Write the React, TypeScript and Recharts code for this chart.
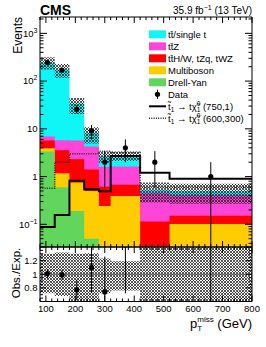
import React from 'react';
import {
  ComposedChart,
  Area,
  Line,
  Scatter,
  ErrorBar,
  XAxis,
  YAxis,
  ReferenceLine,
} from 'recharts';

const FONT = '"Liberation Sans", Arial, Helvetica, sans-serif';

// pT miss binning (GeV)
const binEdges = [80, 130, 180, 230, 280, 320, 420, 520, 800];

// expected backgrounds per bin (events)
const ttbarSingleT = [236, 166, 28.3, 3.95, 1.09, 1.18, 0.066, 0.08];
const ttZ = [1.2, 2.2, 3.4, 2.84, 1.0, 0.95, 0.34, 0.26];
const ttOther = [1.75, 2.4, 1.55, 0.91, 0.37, 0.28, 0.094, 0.05];
const multiboson = [0.6, 0.58, 0.56, 0.45, 0.24, 0.39, 0.02, 0.1];
const drellYan = [3.34, 0.6, 0.19, 0.05, 0.002, 0.002, 0.001, 0.001];

// relative uncertainty of the total expectation
const uncUp = [0.3, 0.32, 0.3, 0.31, 0.23, 0.19, 0.45, 0.45];
const uncDown = [0.28, 0.32, 0.4, 0.4, 0.28, 0.24, 0.45, 0.45];

// signal models
const signal750 = [0.088, 0.157, 0.82, 0.54, 0.49, 2.7, 1.2, 0.9];
const signal600 = [0.57, 2.0, 3.0, 3.0, 3.4, 3.2, 0.6, 0.6];

// observed
const dataCounts = [245, 170, 26, 9, 2, 4, 2, 1];
const dataErrLow = [15.7, 13, 5.1, 3, 1.41, 2, 1.41, 1];
const dataErrHigh = [15.7, 13, 5.1, 3, 1.41, 2, 1.41, 1];

// obs / exp
const ratioObs = [1.01, 0.99, 0.77, 1.1, 0.74, 1.43, null, 2.04];
const ratioErr = [0.065, 0.076, 0.15, 0.37, 0.52, 0.71, null, 2.04];

const xMajorTicks = [100, 200, 300, 400, 500, 600, 700, 800];
const yMajorTicks = [0.1, 1, 10, 100, 1000];
const ratioLabels = [0.8, 1, 1.2];

const Y_MIN = 0.0335;
const Y_MAX = 2200;
const R_MIN = 0.6;
const R_MAX = 1.4;

const COLORS = {
  tt: '#10f6f6',
  ttZ: '#ff45d8',
  ttX: '#ff0000',
  vv: '#ffcc00',
  dy: '#62d65c',
};

const nBins = binEdges.length - 1;

const histRows = binEdges.map((x, i) => {
  const b = Math.min(i, nBins - 1);
  const dy = drellYan[b];
  const vv = dy + multiboson[b];
  const tx = vv + ttOther[b];
  const tz = tx + ttZ[b];
  const tot = tz + ttbarSingleT[b];
  return {
    x,
    dy,
    vv,
    tx,
    tz,
    tot,
    band: [tot * (1 - uncDown[b]), tot * (1 + uncUp[b])],
    sig750: signal750[b],
    sig600: signal600[b],
  };
});

// error bars are cut at the frame, as the pad does
const dataPoints = dataCounts.map((y, i) => ({
  x: (binEdges[i] + binEdges[i + 1]) / 2,
  y,
  err: [Math.min(dataErrLow[i], y - Y_MIN), dataErrHigh[i]],
}));

const ratioRows = binEdges.map((x, i) => {
  const b = Math.min(i, nBins - 1);
  return { x, band: [1 - uncDown[b], 1 + uncUp[b]] };
});

const ratioPoints = ratioObs
  .map((y, i) => ({ x: (binEdges[i] + binEdges[i + 1]) / 2, y, e: ratioErr[i] }))
  .filter((p) => p.y !== null)
  .map((p) => {
    const y = p.y as number;
    const e = p.e as number;
    return { x: p.x, y, err: [Math.min(e, y - R_MIN), Math.min(e, R_MAX - y)] };
  });

const xTicks: number[] = [];
for (let v = 80; v <= 800; v += 20) xTicks.push(v);

const logTicks: number[] = [];
for (let e = -2; e <= 3; e++) {
  for (let m = 1; m <= 9; m++) {
    const v = m * Math.pow(10, e);
    if (v >= Y_MIN && v <= Y_MAX) logTicks.push(v);
  }
}

const ratioTicks: number[] = [];
for (let k = 0; k <= 16; k++) ratioTicks.push(Math.round((0.6 + k * 0.05) * 100) / 100);

function XTick(props: any) {
  const { x, y, payload, dir, showLabel } = props;
  const v = payload.value;
  const major = xMajorTicks.includes(v);
  const len = major ? 6 : 3;
  return (
    <g>
      <line x1={x} x2={x} y1={y} y2={y + dir * len} stroke="#000" strokeWidth={1} />
      {showLabel && major && (
        <text x={x} y={y + 10.5} textAnchor="middle" fontSize={9.5} fontFamily={FONT} fill="#000">
          {v}
        </text>
      )}
    </g>
  );
}

function LogYTick(props: any) {
  const { x, y, payload, side } = props;
  const v = payload.value;
  const major = yMajorTicks.some((t) => Math.abs(t - v) < t * 1e-6);
  const len = major ? 7 : 3.5;
  const dir = side === 'left' ? 1 : -1;
  let label: React.ReactNode = null;
  if (side === 'left' && major) {
    const e = Math.round(Math.log10(v));
    label =
      e === 0 ? '1' : e === 1 ? '10' : (
        <>
          10
          <tspan fontSize={7} dy={-4}>
            {e < 0 ? '\u2212' + Math.abs(e) : e}
          </tspan>
        </>
      );
  }
  return (
    <g>
      <line x1={x} x2={x + dir * len} y1={y} y2={y} stroke="#000" strokeWidth={1} />
      {label && (
        <text x={x - 2.5} y={y + 3.4} textAnchor="end" fontSize={9.5} fontFamily={FONT} fill="#000">
          {label}
        </text>
      )}
    </g>
  );
}

function RatioYTick(props: any) {
  const { x, y, payload, side } = props;
  const v = payload.value;
  const major = Math.abs(Math.round(v * 5) - v * 5) < 1e-6;
  const len = major ? 6 : 3;
  const dir = side === 'left' ? 1 : -1;
  const showLabel = side === 'left' && ratioLabels.some((t) => Math.abs(t - v) < 1e-6);
  return (
    <g>
      <line x1={x} x2={x + dir * len} y1={y} y2={y} stroke="#000" strokeWidth={1} />
      {showLabel && (
        <text x={x - 2.5} y={y + 3.4} textAnchor="end" fontSize={9.5} fontFamily={FONT} fill="#000">
          {String(v)}
        </text>
      )}
    </g>
  );
}

const dot = (p: any) => <circle cx={p.cx} cy={p.cy} r={2.6} fill="#000" />;

function Hatch({ id }: { id: string }) {
  return (
    <defs>
      <pattern id={id} width="3" height="3" patternUnits="userSpaceOnUse">
        <path d="M0,0 L3,3 M3,0 L0,3" stroke="#1c1c1c" strokeWidth={0.75} />
      </pattern>
    </defs>
  );
}

function MainPanel() {
  return (
    <ComposedChart
      width={266}
      height={248}
      data={histRows}
      margin={{ top: 16, right: 13, bottom: 0, left: 8 }}
    >
      <Hatch id="hatchMain" />
      <Area type="stepAfter" dataKey="tot" fill={COLORS.tt} fillOpacity={1} stroke="none" baseValue={Y_MIN} isAnimationActive={false} />
      <Area type="stepAfter" dataKey="tz" fill={COLORS.ttZ} fillOpacity={1} stroke="none" baseValue={Y_MIN} isAnimationActive={false} />
      <Area type="stepAfter" dataKey="tx" fill={COLORS.ttX} fillOpacity={1} stroke="none" baseValue={Y_MIN} isAnimationActive={false} />
      <Area type="stepAfter" dataKey="vv" fill={COLORS.vv} fillOpacity={1} stroke="none" baseValue={Y_MIN} isAnimationActive={false} />
      <Area type="stepAfter" dataKey="dy" fill={COLORS.dy} fillOpacity={1} stroke="none" baseValue={Y_MIN} isAnimationActive={false} />
      <Area type="stepAfter" dataKey="band" fill="url(#hatchMain)" fillOpacity={1} stroke="none" isAnimationActive={false} />
      <Line type="stepAfter" dataKey="sig750" stroke="#000" strokeWidth={2} dot={false} isAnimationActive={false} />
      <Line type="stepAfter" dataKey="sig600" stroke="#222" strokeWidth={1.5} strokeDasharray="1 1.3" dot={false} isAnimationActive={false} />
      <Scatter data={dataPoints} dataKey="y" shape={dot} isAnimationActive={false}>
        <ErrorBar dataKey="err" direction="y" width={0} stroke="#000" strokeWidth={1} />
      </Scatter>
      <XAxis
        type="number"
        dataKey="x"
        domain={[80, 800]}
        allowDataOverflow
        ticks={xTicks}
        interval={0}
        height={1}
        tickSize={0}
        tickMargin={0}
        axisLine={{ stroke: '#000' }}
        tick={(p: any) => <XTick {...p} dir={-1} showLabel={false} />}
      />
      <XAxis
        xAxisId="top"
        orientation="top"
        type="number"
        dataKey="x"
        domain={[80, 800]}
        allowDataOverflow
        ticks={xTicks}
        interval={0}
        height={1}
        tickSize={0}
        tickMargin={0}
        axisLine={{ stroke: '#000' }}
        tick={(p: any) => <XTick {...p} dir={1} showLabel={false} />}
      />
      <YAxis
        scale="log"
        domain={[Y_MIN, Y_MAX]}
        allowDataOverflow
        ticks={logTicks}
        interval={0}
        width={32}
        tickSize={0}
        tickMargin={0}
        axisLine={{ stroke: '#000' }}
        tick={(p: any) => <LogYTick {...p} side="left" />}
      />
      <YAxis
        yAxisId="r"
        orientation="right"
        scale="log"
        domain={[Y_MIN, Y_MAX]}
        allowDataOverflow
        ticks={logTicks}
        interval={0}
        width={1}
        tickSize={0}
        tickMargin={0}
        axisLine={{ stroke: '#000' }}
        tick={(p: any) => <LogYTick {...p} side="right" />}
      />
    </ComposedChart>
  );
}

function RatioPanel() {
  return (
    <ComposedChart
      width={266}
      height={101}
      data={ratioRows}
      margin={{ top: 0, right: 13, bottom: 44.5, left: 8 }}
    >
      <Hatch id="hatchRatio" />
      <Area type="stepAfter" dataKey="band" fill="url(#hatchRatio)" fillOpacity={1} stroke="none" isAnimationActive={false} />
      <ReferenceLine y={1} stroke="#555" strokeWidth={1} />
      <Scatter data={ratioPoints} dataKey="y" shape={dot} isAnimationActive={false}>
        <ErrorBar dataKey="err" direction="y" width={0} stroke="#000" strokeWidth={1} />
      </Scatter>
      <XAxis
        type="number"
        dataKey="x"
        domain={[80, 800]}
        allowDataOverflow
        ticks={xTicks}
        interval={0}
        height={1}
        tickSize={0}
        tickMargin={0}
        axisLine={{ stroke: '#000' }}
        tick={(p: any) => <XTick {...p} dir={-1} showLabel />}
      />
      <XAxis
        xAxisId="top"
        orientation="top"
        type="number"
        dataKey="x"
        domain={[80, 800]}
        allowDataOverflow
        ticks={xTicks}
        interval={0}
        height={1}
        tickSize={0}
        tickMargin={0}
        axisLine={{ stroke: '#000' }}
        tick={(p: any) => <XTick {...p} dir={1} showLabel={false} />}
      />
      <YAxis
        domain={[R_MIN, R_MAX]}
        allowDataOverflow
        ticks={ratioTicks}
        interval={0}
        width={32}
        tickSize={0}
        tickMargin={0}
        axisLine={{ stroke: '#000' }}
        tick={(p: any) => <RatioYTick {...p} side="left" />}
      />
      <YAxis
        yAxisId="r"
        orientation="right"
        domain={[R_MIN, R_MAX]}
        allowDataOverflow
        ticks={ratioTicks}
        interval={0}
        width={1}
        tickSize={0}
        tickMargin={0}
        axisLine={{ stroke: '#000' }}
        tick={(p: any) => <RatioYTick {...p} side="right" />}
      />
    </ComposedChart>
  );
}

const legendBoxes = [
  { label: 'tt\u0304/single t', color: COLORS.tt },
  { label: 'tt\u0304Z', color: COLORS.ttZ },
  { label: 'tt\u0304H/W, tZq, tWZ', color: COLORS.ttX },
  { label: 'Multiboson', color: COLORS.vv },
  { label: 'Drell-Yan', color: COLORS.dy },
];

function SignalLabel({ y, masses }: { y: number; masses: string }) {
  return (
    <text x={168} y={y} fontSize={9.5} fontFamily={FONT} fill="#000">
      t{'\u0303'}
      <tspan fontSize={6.5} dy={2}>1</tspan>
      <tspan dy={-2}>{' \u2192 t\u03c7\u0303'}</tspan>
      <tspan fontSize={6.5} dy={-3.5}>0</tspan>
      <tspan fontSize={6.5} dx={-3.6} dy={6}>1</tspan>
      <tspan dy={-2.5}>{' (' + masses + ')'}</tspan>
    </text>
  );
}

function Overlay() {
  const rowY = (i: number) => 34.3 + i * 12;
  return (
    <svg
      width={266}
      height={347}
      style={{ position: 'absolute', left: 0, top: 0, pointerEvents: 'none' }}
    >
      <text x={40} y={15} fontSize={14} fontWeight="bold" fontFamily={FONT} fill="#000">
        CMS
      </text>
      <text x={252} y={13.5} fontSize={10} textAnchor="end" fontFamily={FONT} fill="#000">
        35.9 fb
        <tspan fontSize={7} dy={-4}>{'\u22121'}</tspan>
        <tspan dy={4}> (13 TeV)</tspan>
      </text>
      <text transform="translate(21.5,17) rotate(-90)" textAnchor="end" fontSize={12} fontFamily={FONT} fill="#000">
        Events
      </text>
      <text transform="translate(20,273) rotate(-90)" textAnchor="middle" fontSize={11.5} fontFamily={FONT} fill="#000">
        Obs./Exp.
      </text>
      <text x={252} y={328} textAnchor="end" fontSize={13} fontFamily={FONT} fill="#000">
        p<tspan fontSize={8} dy={3}>T</tspan>
        <tspan fontSize={8} dx={-4.8} dy={-9}>miss</tspan>
        <tspan dy={6}> (GeV)</tspan>
      </text>
      {legendBoxes.map((e, i) => (
        <g key={e.label}>
          <rect x={149} y={rowY(i) - 4} width={17} height={8} fill={e.color} />
          <text x={168} y={rowY(i) + 3.4} fontSize={9.5} fontFamily={FONT} fill="#000">
            {e.label}
          </text>
        </g>
      ))}
      <line x1={157.5} x2={157.5} y1={rowY(5) - 4.5} y2={rowY(5) + 4.5} stroke="#000" />
      <circle cx={157.5} cy={rowY(5)} r={2.6} fill="#000" />
      <text x={168} y={rowY(5) + 3.4} fontSize={9.5} fontFamily={FONT} fill="#000">
        Data
      </text>
      <line x1={149} x2={166} y1={rowY(6)} y2={rowY(6)} stroke="#000" strokeWidth={2} />
      <SignalLabel y={rowY(6) + 3.4} masses="750,1" />
      <line x1={149} x2={166} y1={rowY(7)} y2={rowY(7)} stroke="#222" strokeWidth={1.5} strokeDasharray="1 1.3" />
      <SignalLabel y={rowY(7) + 3.4} masses="600,300" />
    </svg>
  );
}

export default function App() {
  return (
    <div
      style={{
        position: 'absolute',
        left: 0,
        top: 0,
        width: 266,
        height: 347,
        background: '#fff',
        fontFamily: FONT,
      }}
    >
      <div style={{ position: 'absolute', left: 0, top: 0 }}>
        <MainPanel />
      </div>
      <div style={{ position: 'absolute', left: 0, top: 246 }}>
        <RatioPanel />
      </div>
      <Overlay />
    </div>
  );
}
